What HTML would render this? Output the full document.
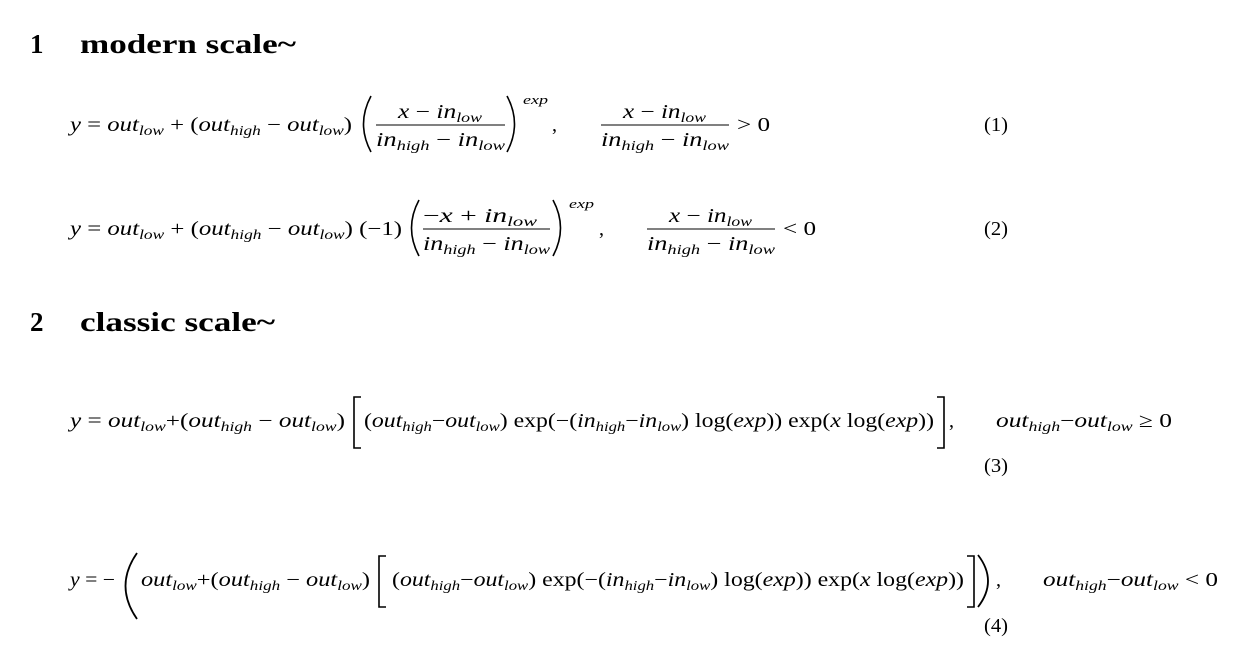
<!DOCTYPE html>
<html><head><meta charset="utf-8"><style>
html,body{margin:0;padding:0;background:#fff;width:1246px;height:672px;overflow:hidden}
svg{display:block}
.h{font-family:"Liberation Serif",serif;font-weight:bold;font-size:27px;fill:#000}
.m{font-family:"Liberation Serif",serif;font-style:italic;font-size:20px;fill:#000}
.r{font-style:normal}
.s{font-size:14px}
.e{font-family:"Liberation Serif",serif;font-style:italic;font-size:13px}
.n{font-family:"Liberation Serif",serif;font-size:20px;fill:#000}
path,line{stroke:#000;fill:none}
</style></head><body>
<svg width="1246" height="672" viewBox="0 0 1246 672" xmlns="http://www.w3.org/2000/svg">
<text class="h" x="30" y="53">1</text>
<text class="h" x="80" y="53" textLength="216" lengthAdjust="spacingAndGlyphs">modern scale~</text>
<text class="h" x="30" y="331">2</text>
<text class="h" x="80" y="331" textLength="195" lengthAdjust="spacingAndGlyphs">classic scale~</text>

<!-- Eq 1 -->
<text class="m" x="70" y="131" textLength="282" lengthAdjust="spacingAndGlyphs">y <tspan class="r">=</tspan> out<tspan class="s" dy="4">low</tspan><tspan dy="-4" class="r"> + (</tspan>out<tspan class="s" dy="4">high</tspan><tspan dy="-4" class="r"> − </tspan>out<tspan class="s" dy="4">low</tspan><tspan dy="-4" class="r">)</tspan></text>
<path d="M371,96 Q356,124 371,152" stroke-width="1.6"/>
<text class="m" x="398" y="118" textLength="84" lengthAdjust="spacingAndGlyphs">x <tspan class="r">−</tspan> in<tspan class="s" dy="4">low</tspan></text>
<line x1="376" y1="125" x2="505" y2="125" stroke-width="1"/>
<text class="m" x="376" y="146" textLength="129" lengthAdjust="spacingAndGlyphs">in<tspan class="s" dy="4">high</tspan><tspan dy="-4" class="r"> − </tspan>in<tspan class="s" dy="4">low</tspan></text>
<path d="M507,96 Q522,124 507,152" stroke-width="1.6"/>
<text class="e" x="523" y="104" textLength="25" lengthAdjust="spacingAndGlyphs">exp</text>
<text class="n" x="552" y="131">,</text>
<text class="m" x="623" y="118" textLength="83" lengthAdjust="spacingAndGlyphs">x <tspan class="r">−</tspan> in<tspan class="s" dy="4">low</tspan></text>
<line x1="601" y1="125" x2="729" y2="125" stroke-width="1"/>
<text class="m" x="601" y="146" textLength="128" lengthAdjust="spacingAndGlyphs">in<tspan class="s" dy="4">high</tspan><tspan dy="-4" class="r"> − </tspan>in<tspan class="s" dy="4">low</tspan></text>
<text class="n" x="737" y="131" textLength="33" lengthAdjust="spacingAndGlyphs">&gt; 0</text>
<text class="n" x="984" y="131" textLength="24" lengthAdjust="spacingAndGlyphs">(1)</text>

<!-- Eq 2 -->
<text class="m" x="70" y="235" textLength="332" lengthAdjust="spacingAndGlyphs">y <tspan class="r">=</tspan> out<tspan class="s" dy="4">low</tspan><tspan dy="-4" class="r"> + (</tspan>out<tspan class="s" dy="4">high</tspan><tspan dy="-4" class="r"> − </tspan>out<tspan class="s" dy="4">low</tspan><tspan dy="-4" class="r">) (−1)</tspan></text>
<path d="M419,200 Q404,228 419,256" stroke-width="1.6"/>
<text class="m" x="423" y="222" textLength="114" lengthAdjust="spacingAndGlyphs"><tspan class="r">−</tspan>x <tspan class="r">+</tspan> in<tspan class="s" dy="4">low</tspan></text>
<line x1="423" y1="229" x2="550" y2="229" stroke-width="1"/>
<text class="m" x="423" y="250" textLength="127" lengthAdjust="spacingAndGlyphs">in<tspan class="s" dy="4">high</tspan><tspan dy="-4" class="r"> − </tspan>in<tspan class="s" dy="4">low</tspan></text>
<path d="M553,200 Q568,228 553,256" stroke-width="1.6"/>
<text class="e" x="569" y="208" textLength="25" lengthAdjust="spacingAndGlyphs">exp</text>
<text class="n" x="599" y="235">,</text>
<text class="m" x="669" y="222" textLength="83" lengthAdjust="spacingAndGlyphs">x <tspan class="r">−</tspan> in<tspan class="s" dy="4">low</tspan></text>
<line x1="647" y1="229" x2="775" y2="229" stroke-width="1"/>
<text class="m" x="647" y="250" textLength="128" lengthAdjust="spacingAndGlyphs">in<tspan class="s" dy="4">high</tspan><tspan dy="-4" class="r"> − </tspan>in<tspan class="s" dy="4">low</tspan></text>
<text class="n" x="783" y="235" textLength="33" lengthAdjust="spacingAndGlyphs">&lt; 0</text>
<text class="n" x="984" y="235" textLength="24" lengthAdjust="spacingAndGlyphs">(2)</text>

<!-- Eq 3 -->
<text class="m" x="70" y="427" textLength="275" lengthAdjust="spacingAndGlyphs">y <tspan class="r">=</tspan> out<tspan class="s" dy="4">low</tspan><tspan dy="-4" class="r">+(</tspan>out<tspan class="s" dy="4">high</tspan><tspan dy="-4" class="r"> − </tspan>out<tspan class="s" dy="4">low</tspan><tspan dy="-4" class="r">)</tspan></text>
<path d="M361,397 L354,397 L354,448 L361,448" stroke-width="1.6"/>
<text class="m" x="364" y="427" textLength="570" lengthAdjust="spacingAndGlyphs"><tspan class="r">(</tspan>out<tspan class="s" dy="4">high</tspan><tspan dy="-4" class="r">−</tspan>out<tspan class="s" dy="4">low</tspan><tspan dy="-4" class="r">) exp(−(</tspan>in<tspan class="s" dy="4">high</tspan><tspan dy="-4" class="r">−</tspan>in<tspan class="s" dy="4">low</tspan><tspan dy="-4" class="r">) log(</tspan>exp<tspan class="r">)) exp(</tspan>x <tspan class="r">log(</tspan>exp<tspan class="r">))</tspan></text>
<path d="M937,397 L944,397 L944,448 L937,448" stroke-width="1.6"/>
<text class="n" x="949" y="427">,</text>
<text class="m" x="996" y="427" textLength="176" lengthAdjust="spacingAndGlyphs">out<tspan class="s" dy="4">high</tspan><tspan dy="-4" class="r">−</tspan>out<tspan class="s" dy="4">low</tspan><tspan dy="-4" class="r"> ≥ 0</tspan></text>
<text class="n" x="984" y="472" textLength="24" lengthAdjust="spacingAndGlyphs">(3)</text>

<!-- Eq 4 -->
<text class="m" x="70" y="586" textLength="45" lengthAdjust="spacingAndGlyphs">y <tspan class="r">= −</tspan></text>
<path d="M137,553 Q114,586 137,619" stroke-width="1.8"/>
<text class="m" x="141" y="586" textLength="229" lengthAdjust="spacingAndGlyphs">out<tspan class="s" dy="4">low</tspan><tspan dy="-4" class="r">+(</tspan>out<tspan class="s" dy="4">high</tspan><tspan dy="-4" class="r"> − </tspan>out<tspan class="s" dy="4">low</tspan><tspan dy="-4" class="r">)</tspan></text>
<path d="M386,556 L379,556 L379,607 L386,607" stroke-width="1.6"/>
<text class="m" x="392" y="586" textLength="572" lengthAdjust="spacingAndGlyphs"><tspan class="r">(</tspan>out<tspan class="s" dy="4">high</tspan><tspan dy="-4" class="r">−</tspan>out<tspan class="s" dy="4">low</tspan><tspan dy="-4" class="r">) exp(−(</tspan>in<tspan class="s" dy="4">high</tspan><tspan dy="-4" class="r">−</tspan>in<tspan class="s" dy="4">low</tspan><tspan dy="-4" class="r">) log(</tspan>exp<tspan class="r">)) exp(</tspan>x <tspan class="r">log(</tspan>exp<tspan class="r">))</tspan></text>
<path d="M967,556 L974,556 L974,607 L967,607" stroke-width="1.6"/>
<path d="M978,555 Q998,581 978,607" stroke-width="1.8"/>
<text class="n" x="996" y="586">,</text>
<text class="m" x="1043" y="586" textLength="175" lengthAdjust="spacingAndGlyphs">out<tspan class="s" dy="4">high</tspan><tspan dy="-4" class="r">−</tspan>out<tspan class="s" dy="4">low</tspan><tspan dy="-4" class="r"> &lt; 0</tspan></text>
<text class="n" x="984" y="632" textLength="24" lengthAdjust="spacingAndGlyphs">(4)</text>
</svg>
</body></html>
